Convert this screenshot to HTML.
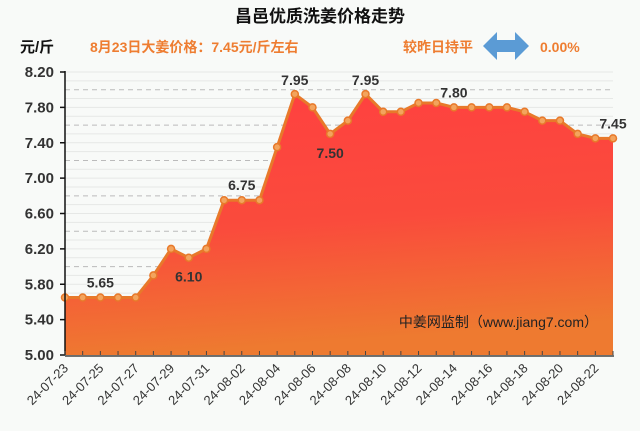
<!DOCTYPE html>
<html><head><meta charset="utf-8"><style>
body{margin:0;background:#f8faf8;}
svg{display:block;font-family:"Liberation Sans","Noto Sans CJK SC",sans-serif;}
</style></head><body>
<svg id="c" width="640" height="431" viewBox="0 0 640 431">
<defs>
<linearGradient id="g" x1="0" y1="0" x2="0.15" y2="1">
<stop offset="0" stop-color="#ff4040"/><stop offset="0.55" stop-color="#fa4b3c"/><stop offset="1" stop-color="#ee7a30"/>
</linearGradient>
</defs>
<rect width="640" height="431" fill="#f8faf8"/>
<text x="320" y="22" text-anchor="middle" font-size="17" font-weight="bold" fill="#111">昌邑优质洗姜价格走势</text>
<text x="20" y="52" font-size="15" font-weight="bold" fill="#111">元/斤</text>
<text x="90" y="52" font-size="14" font-weight="bold" fill="#ee7d31">8月23日大姜价格：7.45元/斤左右</text>
<text x="403" y="52" font-size="14" font-weight="bold" fill="#ee7d31">较昨日持平</text>
<polygon points="483,46 497,32 497,40 515,40 515,32 529,46 515,60 515,52 497,52 497,60" fill="#5b9bd5"/>
<text x="540" y="52" font-size="14" font-weight="bold" fill="#ee7d31">0.00%</text>
<g id="grid"></g>
<g id="plot"></g>
<text x="598" y="327" text-anchor="end" font-size="14" fill="#222">中姜网监制（www.jiang7.com）</text>
</svg>
<script>
const categories=["24-07-23","24-07-24","24-07-25","24-07-26","24-07-27","24-07-28","24-07-29","24-07-30","24-07-31","24-08-01","24-08-02","24-08-03","24-08-04","24-08-05","24-08-06","24-08-07","24-08-08","24-08-09","24-08-10","24-08-11","24-08-12","24-08-13","24-08-14","24-08-15","24-08-16","24-08-17","24-08-18","24-08-19","24-08-20","24-08-21","24-08-22","24-08-23"];
const prices=[5.65,5.65,5.65,5.65,5.65,5.90,6.20,6.10,6.20,6.75,6.75,6.75,7.35,7.95,7.80,7.50,7.65,7.95,7.75,7.75,7.85,7.85,7.80,7.80,7.80,7.80,7.75,7.65,7.65,7.50,7.45,7.45];
const yTicks=["5.00","5.40","5.80","6.20","6.60","7.00","7.40","7.80","8.20"];
const labeledPoints=[{i:2,t:"5.65",dy:-10},{i:7,t:"6.10",dy:24},{i:10,t:"6.75",dy:-10},{i:13,t:"7.95",dy:-9},{i:15,t:"7.50",dy:24},{i:17,t:"7.95",dy:-9},{i:22,t:"7.80",dy:-10},{i:31,t:"7.45",dy:-10}];
const NS="http://www.w3.org/2000/svg";
const X0=65,X1=613,Y0=355,Y1=72,VMIN=5.0,VMAX=8.2;
const x=i=>X0+(X1-X0)*i/(categories.length-1);
const y=v=>Y0-(Y0-Y1)*(v-VMIN)/(VMAX-VMIN);
function mk(tag,attrs,parent){const e=document.createElementNS(NS,tag);for(const k in attrs)e.setAttribute(k,attrs[k]);parent.appendChild(e);return e;}
const grid=document.getElementById('grid'),plot=document.getElementById('plot');
for(let v=VMIN;v<=VMAX+0.001;v+=0.1){
 const major=Math.round(v*10)%4===0;
 const l=mk('line',{x1:X0,x2:X1,y1:y(v),y2:y(v),stroke:major?'#bbb':'#e6e8e6','stroke-width':1,'stroke-dasharray':major?'5,4':'none'},grid);
 
 
}
yTicks.forEach(t=>{
 const v=parseFloat(t);
 const tx=mk('text',{x:54,y:y(v)+5,'text-anchor':'end','font-size':15,'font-weight':'bold',fill:'#333'},grid);
 tx.textContent=t;
 
 
 const tk=mk('line',{x1:60,x2:X0,y1:y(v),y2:y(v),stroke:'#111','stroke-width':1.5},grid);
 
 
});
let pts=prices.map((v,i)=>x(i)+','+y(v)).join(' ');
const area=mk('polygon',{points:X0+','+Y0+' '+pts+' '+X1+','+Y0,fill:'url(#g)'},plot);


const ln=mk('polyline',{points:pts,fill:'none',stroke:'#e8792a','stroke-width':3,'stroke-linejoin':'round'},plot);


prices.forEach((v,i)=>{
 const c=mk('circle',{cx:x(i),cy:y(v),r:3.5,fill:'#f3a45d',stroke:'#e8792a','stroke-width':1.5},plot);
 
 
});
const ax=mk('line',{x1:X0,x2:X0,y1:Y1-1,y2:Y0,stroke:'#111','stroke-width':1.5},plot);


const bx=mk('line',{x1:X0,x2:X1+1,y1:Y0+1,y2:Y0+1,stroke:'#444','stroke-width':1.5},plot);


categories.forEach((c,i)=>{
 const tk=mk('line',{x1:x(i),x2:x(i),y1:Y0,y2:Y0-4,stroke:'#444','stroke-width':1},plot);
 
 
 if(i%2===0){
  const t=mk('text',{x:x(i)+4,y:Y0+14,'text-anchor':'end','font-size':13,fill:'#333',transform:'rotate(-45 '+(x(i)+4)+' '+(Y0+14)+')'},plot);
  t.textContent=c;
  
  
 }
});
labeledPoints.forEach(p=>{
 const t=mk('text',{x:x(p.i),y:y(prices[p.i])+p.dy,'text-anchor':'middle','font-size':14,'font-weight':'bold',fill:'#333'},plot);
 t.textContent=p.t;
 
 
});
</script>
</body></html>
